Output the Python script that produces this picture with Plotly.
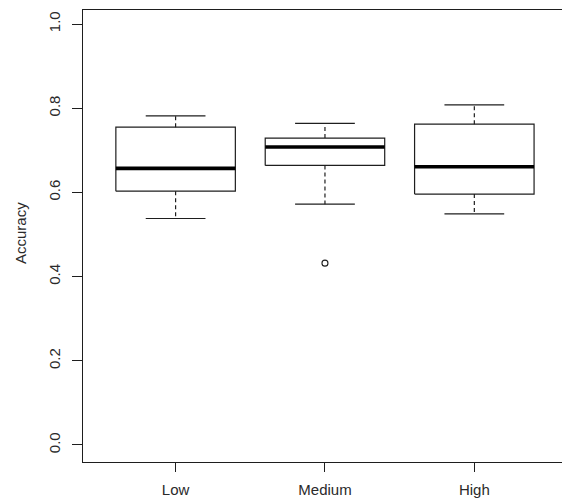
import plotly.graph_objects as go

categories = ["Low", "Medium", "High"]
upper_whisker = [0.782, 0.764, 0.808]
q3 = [0.755, 0.729, 0.762]
median = [0.657, 0.708, 0.661]
q1 = [0.603, 0.664, 0.596]
lower_whisker = [0.538, 0.572, 0.549]
outlier_group = [2]
outlier_value = [0.432]
y_ticks = [0.0, 0.2, 0.4, 0.6, 0.8, 1.0]

BOX_HALF = 0.4
CAP_HALF = 0.2
INK = "#1e1e1e"

fig = go.Figure()
positions = list(range(1, len(categories) + 1))

for i, pos in enumerate(positions):
    # box
    fig.add_trace(go.Scatter(
        x=[pos - BOX_HALF, pos + BOX_HALF, pos + BOX_HALF, pos - BOX_HALF, pos - BOX_HALF],
        y=[q1[i], q1[i], q3[i], q3[i], q1[i]],
        mode="lines", line=dict(color=INK, width=1.2), hoverinfo="skip", showlegend=False))
    # median
    fig.add_trace(go.Scatter(
        x=[pos - BOX_HALF, pos + BOX_HALF], y=[median[i], median[i]],
        mode="lines", line=dict(color="#000000", width=3.6), hoverinfo="skip", showlegend=False))
    # whiskers
    fig.add_trace(go.Scatter(
        x=[pos, pos, None, pos, pos],
        y=[q3[i], upper_whisker[i], None, q1[i], lower_whisker[i]],
        mode="lines", line=dict(color=INK, width=1.2, dash="4px,3px"),
        hoverinfo="skip", showlegend=False))
    # caps
    fig.add_trace(go.Scatter(
        x=[pos - CAP_HALF, pos + CAP_HALF, None, pos - CAP_HALF, pos + CAP_HALF],
        y=[upper_whisker[i], upper_whisker[i], None, lower_whisker[i], lower_whisker[i]],
        mode="lines", line=dict(color=INK, width=1.2), hoverinfo="skip", showlegend=False))

fig.add_trace(go.Scatter(
    x=outlier_group, y=outlier_value, mode="markers",
    marker=dict(symbol="circle-open", size=6, color=INK, line=dict(width=1.1)),
    hoverinfo="skip", showlegend=False))

font_family = "Liberation Sans, Arial, sans-serif"
TXT = "#2a2a2a"

fig.update_layout(
    width=562, height=501,
    margin=dict(l=83, r=0, t=10, b=39),
    paper_bgcolor="white", plot_bgcolor="white",
    font=dict(family=font_family, size=15, color=TXT),
    xaxis=dict(
        range=[0.38, 3.587], tickmode="array", tickvals=positions, ticktext=categories,
        showgrid=False, zeroline=False, showline=True, linecolor=INK, linewidth=1.2,
        mirror=True, ticks="outside", ticklen=9, tickcolor=INK, tickwidth=1,
        ticklabelstandoff=5,
        tickfont=dict(size=15, color=TXT), fixedrange=True),
    yaxis=dict(
        range=[-0.0404, 1.0333], tickmode="array", tickvals=y_ticks,
        ticktext=[f"{v:.1f}" for v in y_ticks], tickangle=-90,
        showgrid=False, zeroline=False, showline=True, linecolor=INK, linewidth=1.2,
        ticks="outside", ticklen=10, tickcolor=INK, tickwidth=1,
        ticklabelstandoff=6,
        tickfont=dict(size=15, color=TXT), fixedrange=True),
    annotations=[dict(
        text="Accuracy", xref="paper", yref="paper",
        x=-(83 - 20) / 479, y=(462 - 233) / 452,
        textangle=-90, showarrow=False, xanchor="center", yanchor="middle",
        font=dict(size=15, color=TXT))],
)

fig.write_html("out.html")
